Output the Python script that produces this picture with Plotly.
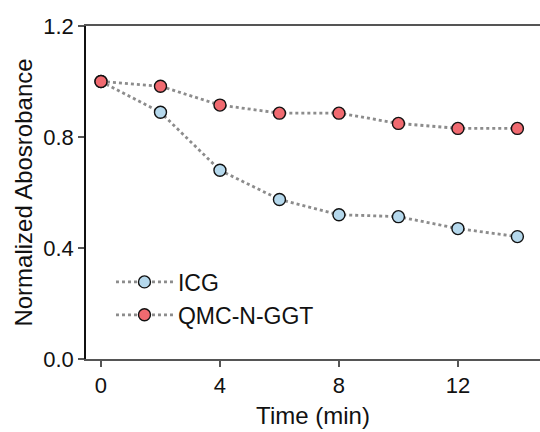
import plotly.graph_objects as go

# Time points (min) and normalized absorbance for each dye
time_min = [0, 2, 4, 6, 8, 10, 12, 14]
icg = [1.00, 0.889, 0.680, 0.575, 0.520, 0.513, 0.470, 0.441]
qmc_n_ggt = [1.00, 0.983, 0.915, 0.886, 0.886, 0.849, 0.831, 0.831]

x_ticks = [0, 4, 8, 12]
y_ticks = [0.0, 0.4, 0.8, 1.2]
y_tick_text = ["0.0", "0.4", "0.8", "1.2"]

FONT = "Liberation Sans, Arial, sans-serif"
LINE_GRAY = "#8c8c8c"

fig = go.Figure()

series = [
    ("ICG", icg, "#b5d8ec"),
    ("QMC-N-GGT", qmc_n_ggt, "#f06a70"),
]
for name, values, color in series:
    fig.add_trace(go.Scatter(
        x=time_min, y=values, name=name, mode="lines+markers",
        line=dict(color=LINE_GRAY, width=2.8, dash="dot"),
        marker=dict(size=12, color=color, line=dict(color="#111111", width=1.4)),
    ))

fig.update_layout(
    width=540, height=432,
    margin=dict(l=86, r=0, t=26, b=73),
    paper_bgcolor="white", plot_bgcolor="white",
    font=dict(family=FONT, color="#111111", size=22),
    showlegend=True,
    legend=dict(
        x=0.055, y=0.296, xanchor="left", yanchor="top",
        font=dict(size=23, family=FONT),
        bgcolor="rgba(0,0,0,0)", itemwidth=57, tracegroupgap=0,
    ),
    xaxis=dict(
        range=[-0.504, 14.76], tickvals=x_ticks, ticktext=[str(t) for t in x_ticks],
        showgrid=False, zeroline=False,
        showline=True, linecolor="#555555", linewidth=2, mirror=True,
        ticks="outside", ticklen=6, tickwidth=1.5, tickcolor="#555555",
        tickfont=dict(size=22, family=FONT),
        title=dict(text="Time (min)", font=dict(size=24, family=FONT), standoff=10),
        automargin=False,
    ),
    yaxis=dict(
        range=[0, 1.2], tickvals=y_ticks, ticktext=y_tick_text,
        showgrid=False, zeroline=False,
        showline=True, linecolor="#111111", linewidth=1.5,
        ticks="outside", ticklen=6, tickwidth=1.5, tickcolor="#555555",
        tickfont=dict(size=22, family=FONT),
        title=dict(text="Normalized Abosrobance", font=dict(size=24, family=FONT), standoff=4),
        automargin=False,
    ),
)

fig.write_html("out.html")
